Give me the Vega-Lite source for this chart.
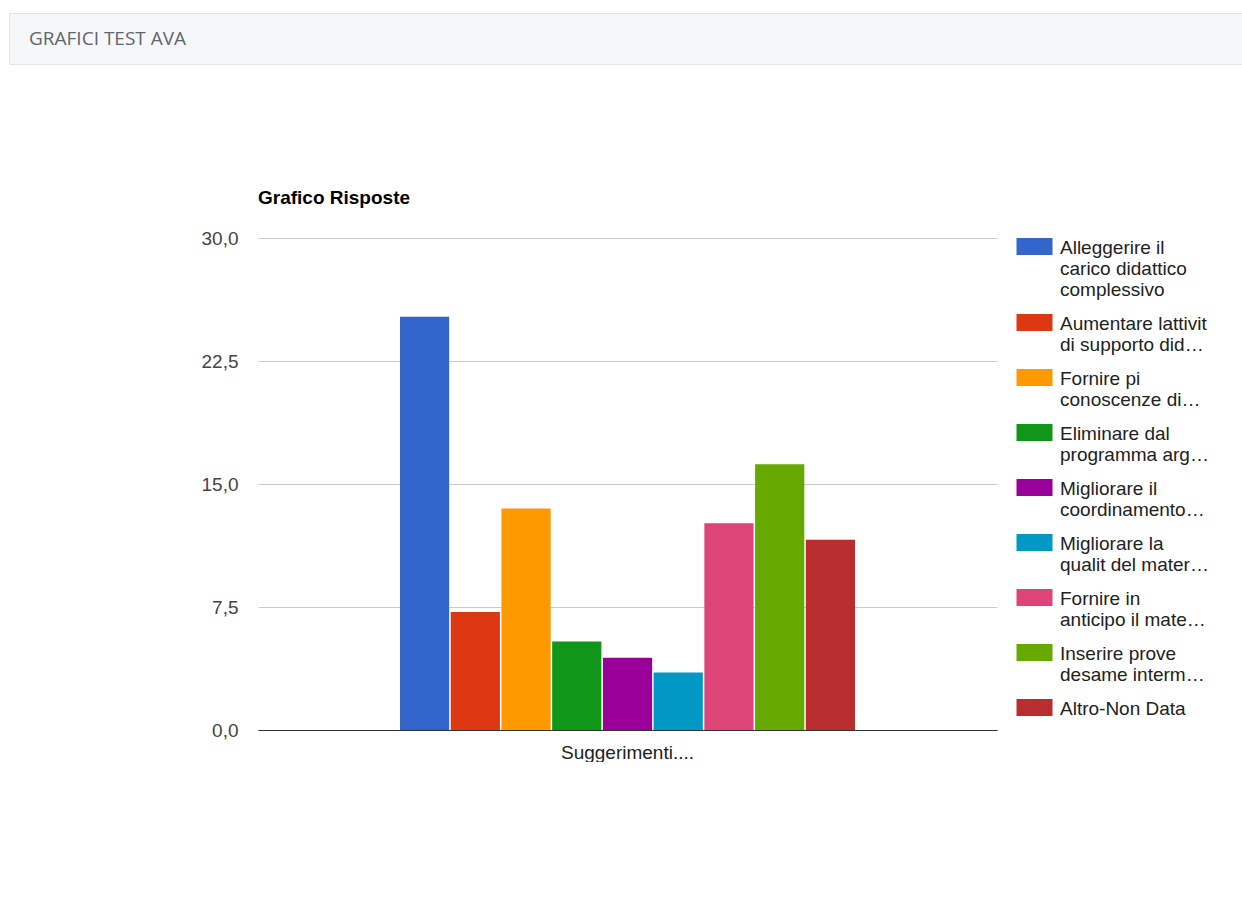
{
  "$schema": "https://vega.github.io/schema/vega-lite/v6.json",
  "background": "white",
  "padding": {"left": 8, "top": 12, "right": 0, "bottom": 0},
  "spacing": 124,
  "resolve": {"legend": {"color": "independent"}},
  "vconcat": [
    {
      "width": 1234,
      "height": 51,
      "view": {"fill": "#f6f7f9", "stroke": "#e3e6e9"},
      "data": {"values": [{"titolo": "GRAFICI TEST AVA"}]},
      "mark": {"type": "text", "align": "left", "baseline": "middle", "dx": 20, "font": "Open Sans", "fontSize": 19, "color": "#60666f"},
      "encoding": {
        "text": {"field": "titolo"},
        "x": {"datum": 0, "scale": {"domain": [0, 1]}, "axis": null}
      }
    },
    {
      "spacing": 0,
      "resolve": {"legend": {"color": "independent"}},
      "hconcat": [
        {
          "width": 189,
          "height": 1,
          "view": {"stroke": null},
          "data": {"values": []},
          "mark": {"type": "point", "opacity": 0},
          "encoding": {}
        },
        {
          "width": 739,
          "height": 492,
          "view": {"stroke": null},
          "title": {"text": "Grafico Risposte", "anchor": "start", "frame": "group", "font": "Liberation Sans", "fontSize": 19, "fontWeight": "bold", "color": "#000000", "offset": 21},
          "data": {
            "values": [
              {"gruppo": "Suggerimenti....", "risposta": "Alleggerire il\ncarico didattico\ncomplessivo", "valore": 25.2},
              {"gruppo": "Suggerimenti....", "risposta": "Aumentare lattivit\ndi supporto did…", "valore": 7.2},
              {"gruppo": "Suggerimenti....", "risposta": "Fornire pi\nconoscenze di…", "valore": 13.5},
              {"gruppo": "Suggerimenti....", "risposta": "Eliminare dal\nprogramma arg…", "valore": 5.4},
              {"gruppo": "Suggerimenti....", "risposta": "Migliorare il\ncoordinamento…", "valore": 4.4},
              {"gruppo": "Suggerimenti....", "risposta": "Migliorare la\nqualit del mater…", "valore": 3.5},
              {"gruppo": "Suggerimenti....", "risposta": "Fornire in\nanticipo il mate…", "valore": 12.6},
              {"gruppo": "Suggerimenti....", "risposta": "Inserire prove\ndesame interm…", "valore": 16.2},
              {"gruppo": "Suggerimenti....", "risposta": "Altro-Non Data", "valore": 11.6}
            ]
          },
          "mark": {"type": "bar"},
          "encoding": {
            "x": {
              "field": "gruppo", "type": "nominal",
              "scale": {"paddingInner": 0, "paddingOuter": 0.312},
              "axis": {"title": null, "labelAngle": 0, "ticks": false, "grid": false, "domainColor": "#333333", "domainWidth": 1, "labelFont": "Liberation Sans", "labelFontSize": 19, "labelColor": "#222222", "labelPadding": 13}
            },
            "xOffset": {
              "field": "risposta", "type": "nominal", "sort": null,
              "scale": {"paddingInner": 0.03, "paddingOuter": 0}
            },
            "y": {
              "field": "valore", "type": "quantitative",
              "scale": {"domain": [0, 30], "nice": false},
              "axis": {"title": null, "values": [0, 7.5, 15, 22.5, 30], "labelExpr": "replace(format(datum.value, '.1f'), '.', ',')", "domain": false, "ticks": false, "labelPadding": 20, "labelFont": "Liberation Sans", "labelFontSize": 19, "labelColor": "#444444", "gridColor": "#cccccc", "gridWidth": 1, "minExtent": 60, "maxExtent": 60}
            },
            "color": {
              "field": "risposta", "type": "nominal", "sort": null,
              "scale": {"range": ["#3366cc", "#dc3912", "#ff9900", "#109618", "#990099", "#0099c6", "#dd4477", "#66aa00", "#b82e2e"]},
              "legend": {"title": null, "orient": "right", "offset": 20, "padding": 0, "labelExpr": "split(datum.label, '\\n')", "labelFont": "Liberation Sans", "labelFontSize": 19, "labelColor": "#222222", "labelLimit": 400, "labelBaseline": "middle", "labelOffset": 24, "symbolType": "M-10,-9.5H26V7.5H-10Z", "symbolSize": 4, "symbolStrokeWidth": 0, "symbolOpacity": 1, "rowPadding": 14}
            }
          }
        }
      ]
    }
  ]
}
